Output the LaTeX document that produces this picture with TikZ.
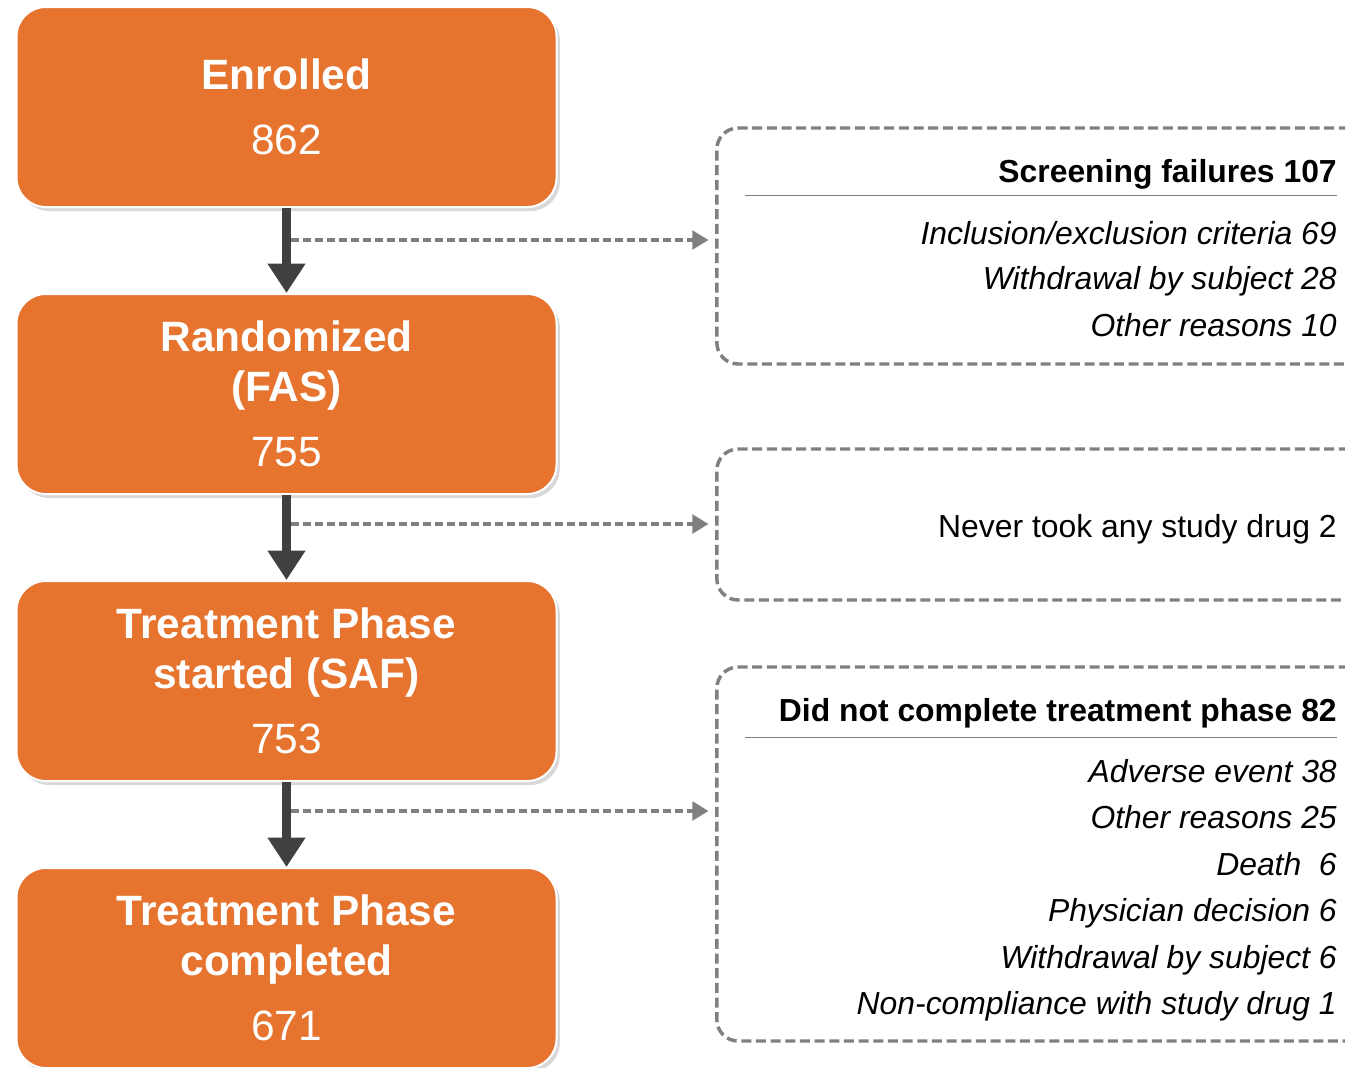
\documentclass[tikz,border=0pt]{standalone}
\usepackage{fontspec}
\setmainfont{Liberation Sans}
\usetikzlibrary{arrows.meta,shadows}
\definecolor{flowOrange}{RGB}{230,115,46}
\definecolor{arrowGray}{RGB}{64,64,64}
\definecolor{dashGray}{RGB}{128,128,128}

\begin{document}
\begin{tikzpicture}[x=0.75pt,y=-0.75pt,
  stage/.style={draw=white,line width=1.5pt,fill=flowOrange,rounded corners=22pt,
    minimum width=405pt,minimum height=150pt,inner sep=0pt,text=white,align=center,
    font=\fontsize{31.8}{37.5}\selectfont,
    drop shadow={shadow xshift=2.5pt,shadow yshift=-3pt,opacity=0.3}},
  outcome/.style={draw=dashGray,line width=2.6pt,dash pattern=on 7.5pt off 3.5pt,
    rounded corners=16pt,minimum width=490pt,inner sep=0pt},
  flow/.style={draw=arrowGray,line width=6.75pt,-{Triangle[width=27pt,length=22pt]}},
  sidearrow/.style={draw=dashGray,line width=2.3pt,dash pattern=on 6pt off 3pt,
    -{Triangle[width=14pt,length=12pt]},shorten >=5pt},
  head/.style={anchor=base east,inner sep=0pt,font=\fontsize{23.9}{28}\selectfont\bfseries},
  reason/.style={anchor=base east,inner sep=0pt,font=\fontsize{23.9}{28}\selectfont\itshape},
  plain/.style={anchor=base east,inner sep=0pt,font=\fontsize{23.9}{28}\selectfont},
  rule/.style={draw=dashGray,line width=0.75pt}]
\useasboundingbox (0,0) rectangle (1345,1067);

% main flow
\draw (286.5,107) node[stage](enrolled) {\textbf{Enrolled}\\[11.25pt]862};
\draw (286.5,394) node[stage](randomized) {\textbf{Randomized}\\\textbf{(FAS)}\\[11.25pt]755};
\draw (286.5,681) node[stage](started) {\textbf{Treatment Phase}\\\textbf{started (SAF)}\\[11.25pt]753};
\draw (286.5,968) node[stage](completed) {\textbf{Treatment Phase}\\\textbf{completed}\\[11.25pt]671};
\draw[flow] (enrolled) -- (randomized);
\draw[flow] (randomized) -- (started);
\draw[flow] (started) -- (completed);

% drop-out boxes
\draw (1043.5,246) node[outcome,minimum height=177pt](screen) {};
\draw (1043.5,524.5) node[outcome,minimum height=113.25pt](nodrug) {};
\draw (1043.5,854) node[outcome,minimum height=280.5pt](dropout) {};

\coordinate (split1) at (291,240);
\coordinate (split2) at (291,524);
\coordinate (split3) at (291,811);
\draw[sidearrow] (split1) -- (split1 -| screen.west);
\draw[sidearrow] (split2) -- (split2 -| nodrug.west);
\draw[sidearrow] (split3) -- (split3 -| dropout.west);

% texts
\draw (1337,182) node[head](screenhead) {Screening failures 107};
\draw[rule] (745,195) -- (1337,195);
\draw (1337,244) node[reason](incl) {Inclusion/exclusion criteria 69};
\draw (1337,289) node[reason](withdr1) {Withdrawal by subject 28};
\draw (1337,336) node[reason](other1) {Other reasons 10};

\draw (1337,537) node[plain](never) {Never took any study drug 2};

\draw (1337,721) node[head](drophead) {Did not complete treatment phase 82};
\draw[rule] (745,737) -- (1337,737);
\draw (1337,782) node[reason](adverse) {Adverse event 38};
\draw (1337,828) node[reason](other2) {Other reasons 25};
\draw (1337,875) node[reason](death) {Death\ \ 6};
\draw (1337,921) node[reason](physician) {Physician decision 6};
\draw (1337,968) node[reason](withdr2) {Withdrawal by subject 6};
\draw (1337,1014) node[reason](noncomp) {Non-compliance with study drug 1};
\end{tikzpicture}
\end{document}
